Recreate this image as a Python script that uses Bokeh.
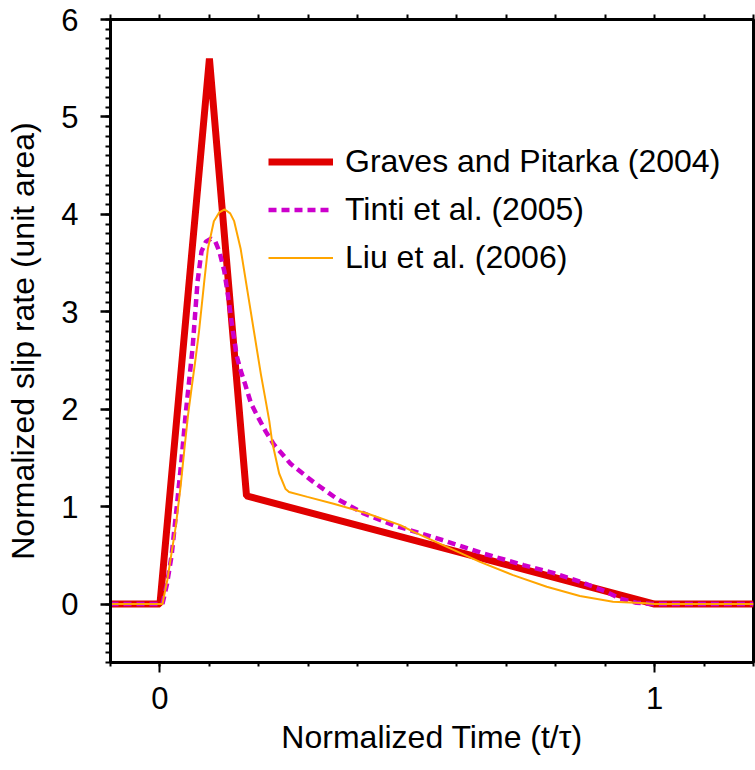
import numpy as np
from bokeh.plotting import figure
from bokeh.models import LinearAxis, FixedTicker, Legend, LegendItem, Range1d
from bokeh.embed import file_html
from bokeh.resources import INLINE

# ---- data ----
time_gp = [-0.1, 0.0, 0.1, 0.175, 1.0, 1.2]
rate_gp = [0.0, 0.0, 5.6, 1.11, 0.0, 0.0]

time_tinti = [-0.1, 0.0, 0.005, 0.014, 0.0236, 0.034, 0.043, 0.052, 0.066, 0.076, 0.084,
              0.093, 0.103, 0.112, 0.12, 0.13, 0.138, 0.146, 0.155, 0.163, 0.172, 0.184,
              0.197, 0.214, 0.230, 0.264, 0.311, 0.358, 0.412, 0.472, 0.573, 0.654, 0.735,
              0.795, 0.849, 0.903, 0.929, 0.963, 1.0, 1.2]
rate_tinti = [0.0, 0.0, 0.0, 0.2, 0.5, 1.0, 1.45, 1.95, 2.63, 3.31, 3.62,
              3.72, 3.75, 3.72, 3.62, 3.42, 3.15, 2.85, 2.55, 2.40, 2.26, 2.06,
              1.93, 1.77, 1.64, 1.44, 1.25, 1.08, 0.93, 0.81, 0.654, 0.518, 0.40,
              0.32, 0.23, 0.126, 0.058, 0.013, 0.0, 0.0]

time_liu = [-0.1, 0.0, 0.005, 0.015, 0.022, 0.032, 0.042, 0.050, 0.057, 0.064, 0.071,
            0.079, 0.0895, 0.097, 0.109, 0.12, 0.131, 0.142, 0.150, 0.163, 0.177, 0.190,
            0.204, 0.214, 0.221, 0.227, 0.241, 0.254, 0.261, 0.298, 0.351, 0.419, 0.486,
            0.513, 0.58, 0.647, 0.714, 0.782, 0.849, 0.916, 0.983, 1.0, 1.2]
rate_liu = [0.0, 0.0, 0.0, 0.25, 0.48, 0.80, 1.22, 1.62, 1.95, 2.22, 2.48,
            2.80, 3.31, 3.65, 3.93, 4.02, 4.05, 4.01, 3.93, 3.65, 3.21, 2.80,
            2.36, 2.08, 1.88, 1.66, 1.34, 1.18, 1.15, 1.10, 1.03, 0.93, 0.81,
            0.74, 0.586, 0.433, 0.297, 0.177, 0.082, 0.024, 0.007, 0.0, 0.0]

series_labels = ["Graves and Pitarka (2004)", "Tinti et al. (2005)", "Liu et al. (2006)"]

x_major = [0, 1]
x_minor = [round(-0.1 + 0.1 * i, 2) for i in range(14)]
y_major = [0, 1, 2, 3, 4, 5, 6]
y_minor = [round(-0.6 + 0.1 * i, 2) for i in range(67)]

FONT = "Liberation Sans"

p = figure(frame_width=643, frame_height=643,
           x_range=Range1d(-0.1, 1.2), y_range=Range1d(-0.6, 6.0),
           output_backend="svg", toolbar_location=None,
           min_border_left=110, min_border_right=2, min_border_top=19, min_border_bottom=98)
p.grid.visible = False
p.outline_line_color = "black"
p.outline_line_width = 3
p.background_fill_color = "white"
p.border_fill_color = "white"


def style_axis(ax, major_out, minor_out, major_w, minor_w):
    ax.axis_line_width = 3
    ax.axis_line_color = "black"
    ax.major_tick_in = 0
    ax.minor_tick_in = 0
    ax.major_tick_out = major_out
    ax.minor_tick_out = minor_out
    ax.major_tick_line_width = major_w
    ax.minor_tick_line_width = minor_w
    ax.major_tick_line_color = "black"
    ax.minor_tick_line_color = "black"
    ax.major_label_text_font = FONT
    ax.major_label_text_font_size = "31px"
    ax.major_label_text_color = "black"
    ax.axis_label_text_font = FONT
    ax.axis_label_text_font_size = "32px"
    ax.axis_label_text_font_style = "normal"
    ax.axis_label_text_color = "black"


xb = p.xaxis[0]
xb.ticker = FixedTicker(ticks=x_major, minor_ticks=x_minor)
style_axis(xb, 10, 4, 2, 2)
xb.axis_label = "Normalized Time (t/τ)"
xb.major_label_standoff = 14
xb.axis_label_standoff = 7

yl = p.yaxis[0]
yl.ticker = FixedTicker(ticks=y_major, minor_ticks=y_minor)
style_axis(yl, 10, 5, 2.5, 2)
yl.axis_label = "Normalized slip rate (unit area)"
yl.major_label_standoff = 22
yl.axis_label_standoff = 17
yl.major_label_orientation = "horizontal"

# top frame axis: tick marks only, no labels
xt = LinearAxis(ticker=FixedTicker(ticks=[], minor_ticks=x_minor))
style_axis(xt, 8, 5, 2, 2)
xt.major_label_standoff = 0
p.add_layout(xt, "above")

r1 = p.line(time_gp, rate_gp, line_color="#E00000", line_width=7)
r2 = p.line(time_tinti, rate_tinti, line_color="#CC00CC", line_width=4.5, line_dash="8 5")
r3 = p.line(time_liu, rate_liu, line_color="#FFA500", line_width=2)

legend = Legend(items=[LegendItem(label=series_labels[0], renderers=[r1]),
                       LegendItem(label=series_labels[1], renderers=[r2]),
                       LegendItem(label=series_labels[2], renderers=[r3])],
                location=(158, 386), orientation="vertical",
                glyph_width=65, glyph_height=37, label_height=37, label_standoff=12,
                spacing=11, padding=0, margin=0,
                border_line_alpha=0, background_fill_alpha=0,
                label_text_font=FONT, label_text_font_size="32px", label_text_color="black")
p.add_layout(legend)

open("out.html", "w").write(file_html(p, INLINE))
